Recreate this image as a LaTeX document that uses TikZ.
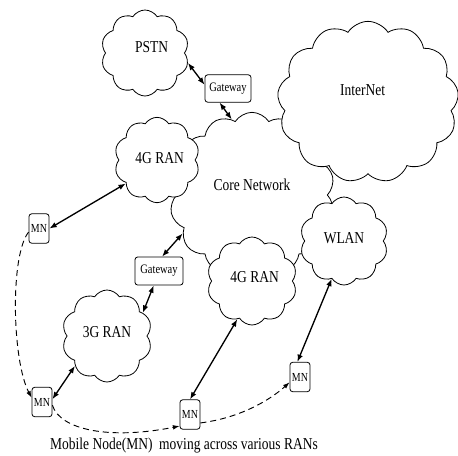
\documentclass[tikz,border=0pt]{standalone}
\usepackage{fontspec}
\setmainfont{Liberation Serif}[FakeStretch=0.81]
\usetikzlibrary{shapes.symbols,arrows.meta}
\begin{document}
\begin{tikzpicture}[x=0.75pt,y=-0.75pt,
  net/.style={cloud, cloud puffs=#1, cloud puff arc=115, cloud ignores aspect,
    draw, fill=white, line width=0.6pt, inner sep=0pt},
  cloudtext/.style={font=\rmfamily\fontsize{12.5}{14}\selectfont},
  gw/.style={draw, rounded corners=2pt, fill=white, line width=0.6pt, inner sep=0pt,
    minimum width=34.5pt, minimum height=20.5pt, font=\rmfamily\fontsize{9.7}{10}\selectfont},
  mn/.style={draw, rounded corners=2pt, fill=white, line width=0.6pt, inner sep=0pt,
    minimum width=15pt, minimum height=22pt, font=\rmfamily\fontsize{9.2}{10}\selectfont},
  link/.style={{Latex[length=5.5pt,width=4.2pt]}-{Latex[length=5.5pt,width=4.2pt]}, line width=1pt},
  move/.style={-{Latex[length=5pt,width=3.5pt]}, line width=0.7pt, dash pattern=on 4.5pt off 3pt}]
\useasboundingbox (0,0) rectangle (458,455);

% core network sits behind every other cloud
\node[net=14, minimum width=124pt, minimum height=124pt,
  label={[cloudtext, yshift=7.5pt]center:Core Network}] (core) at (252,195) {};
\node[net=13, minimum width=136pt, minimum height=121pt,
  label={[cloudtext, xshift=-4pt, yshift=9pt]center:InterNet}] (inet) at (368,102) {};
\node[net=10, minimum width=66pt, minimum height=64.5pt,
  label={[cloudtext, xshift=5pt, yshift=4.5pt]center:PSTN}] (pstn) at (145,53) {};
\node[net=10, minimum width=64pt, minimum height=64pt,
  label={[cloudtext, xshift=2pt, yshift=1.5pt]center:4G RAN}] (ranA) at (157,160) {};
\node[net=10, minimum width=67.5pt, minimum height=66pt,
  label={[cloudtext, xshift=2pt, yshift=3pt]center:4G RAN}] (ranB) at (252,281) {};
\node[net=10, minimum width=66pt, minimum height=66pt,
  label={[cloudtext, yshift=2pt]center:WLAN}] (wlan) at (344,241) {};
\node[net=10, minimum width=67.5pt, minimum height=69pt,
  label={[cloudtext, yshift=3pt]center:3G RAN}] (ran3) at (107,336) {};

% gateways
\node[gw] (gwA) at (228,88.5) {Gateway};
\node[gw, minimum width=36pt, minimum height=21pt] (gwB) at (159,271) {Gateway};

% mobile node positions
\node[mn] (mnA) at (39,228.5) {MN};
\node[mn] (mnB) at (42,402) {MN};
\node[mn] (mnC) at (190,414.5) {MN};
\node[mn] (mnD) at (300,377) {MN};

% links
\draw[link] (pstn.-13) -- (gwA.171);
\draw[link] (gwA.-121) -- (core.105);
\draw[link] (ranA.217) -- (mnA.east);
\draw[link] (gwB.78) -- (core.209);
\draw[link] (gwB.-110) -- (ran3.33);
\draw[link] (ran3.223) -- (mnB.15);
\draw[link] (ranB.249) -- (mnC.north);
\draw[link] (wlan.252) -- (mnD.100);

% path of the moving node
\draw[move] (mnA.199) .. controls (10,255) and (12,360) .. (mnB.158);
\draw[move] (mnB.-17) .. controls (60,430) and (110,440) .. (mnC.228);
\draw[move] (mnC.-39) .. controls (240,418) and (270,400) .. (mnD.207);

\node[cloudtext] (caption) at (184,446) {Mobile Node(MN)\ \ moving across various RANs};
\end{tikzpicture}
\end{document}
